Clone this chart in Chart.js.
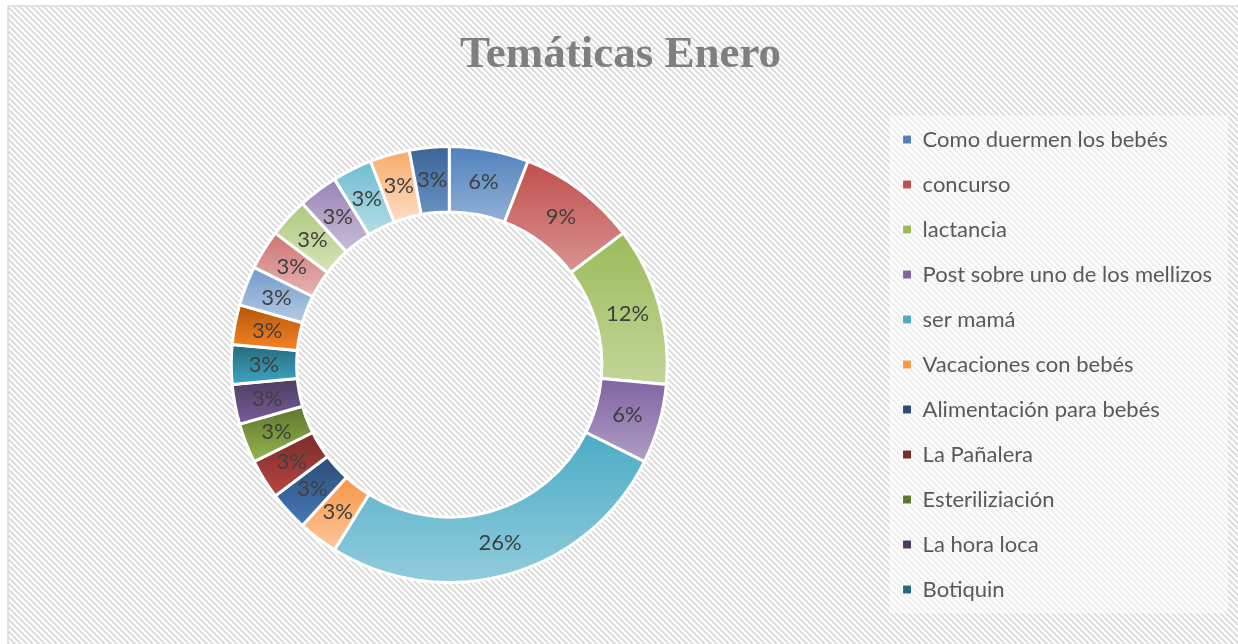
<!DOCTYPE html>
<html>
<head>
<meta charset="utf-8">
<title>Temáticas Enero</title>
<script src="https://cdn.jsdelivr.net/npm/chart.js@4.4.0/dist/chart.umd.min.js"></script>
<style>
  html, body { margin: 0; padding: 0; background: #fff; }
  #wrap { width: 1238px; height: 644px; }
</style>
</head>
<body>
<div id="wrap"><canvas id="temasChart" width="1238" height="644"></canvas></div>
<script>
// Temas publicados en enero (el original solo muestra 11 en la leyenda)
var temas = [
    'Como duermen los bebés', 'concurso', 'lactancia', 'Post sobre uno de los mellizos',
    'ser mamá', 'Vacaciones con bebés', 'Alimentación para bebés', 'La Pañalera',
    'Esteriliziación', 'La hora loca', 'Botiquin',
    // nombres no visibles en la imagen
    'Tema 12', 'Tema 13', 'Tema 14', 'Tema 15', 'Tema 16', 'Tema 17', 'Tema 18', 'Tema 19'
];
var publicaciones = [2, 3, 4, 2, 9, 1, 1, 1, 1, 1, 1, 1, 1, 1, 1, 1, 1, 1, 1];
var temasEnLeyenda = 11;

// paleta tipo Office 2007
var colores = [
    '#4f81bd', '#c0504d', '#9bbb59', '#8064a2', '#4bacc6', '#f79646',
    '#2c4d75', '#772c2a', '#5f7530', '#4d3b62', '#276a7c', '#b65708',
    '#729aca', '#cd7371', '#afc97a', '#9983b5', '#6fbdd1', '#f9ab6b',
    '#3b6496'
];

// sube la luminosidad (HSL) sin perder saturación
function aclarar(hex, dl) {
    var n = parseInt(hex.slice(1), 16);
    var r = ((n >> 16) & 255) / 255, g = ((n >> 8) & 255) / 255, b = (n & 255) / 255;
    var max = Math.max(r, g, b), min = Math.min(r, g, b);
    var h = 0, s = 0, l = (max + min) / 2;
    if (max !== min) {
        var d = max - min;
        s = l > 0.5 ? d / (2 - max - min) : d / (max + min);
        if (max === r) h = (g - b) / d + (g < b ? 6 : 0);
        else if (max === g) h = (b - r) / d + 2;
        else h = (r - g) / d + 4;
        h *= 60;
    }
    l = Math.min(l + dl, 0.92);
    return 'hsl(' + h.toFixed(1) + ',' + (s * 100).toFixed(1) + '%,' + (l * 100).toFixed(1) + '%)';
}

// fondo rayado + recuadro blanco de la leyenda
var fondoPlugin = {
    id: 'fondo',
    beforeDraw: function (chart) {
        var ctx = chart.ctx;
        var tile = document.createElement('canvas');
        tile.width = 6; tile.height = 6;
        var tctx = tile.getContext('2d');
        var img = tctx.createImageData(6, 6);
        for (var y = 0; y < 6; y++) {
            for (var x = 0; x < 6; x++) {
                var k = (y * 6 + x) * 4;
                var gris = ((x - y + 12) % 6) < 3;
                var v = gris ? 222 : 255;
                img.data[k] = v; img.data[k + 1] = v; img.data[k + 2] = v; img.data[k + 3] = 255;
            }
        }
        tctx.putImageData(img, 0, 0);
        ctx.save();
        ctx.fillStyle = '#fff';
        ctx.fillRect(0, 0, chart.width, chart.height);
        ctx.fillStyle = ctx.createPattern(tile, 'repeat');
        ctx.fillRect(8, 6, chart.width, chart.height);
        ctx.strokeStyle = '#d9d9d9';
        ctx.lineWidth = 1.5;
        ctx.strokeRect(8, 6, chart.width + 10, chart.height + 10);

        var cajas = chart.legend.legendHitBoxes;
        if (cajas && cajas.length) {
            var primera = cajas[0], ultima = cajas[cajas.length - 1];
            var izq = primera.left - 13, arriba = primera.top - 13;
            ctx.fillStyle = 'rgba(255,255,255,0.5)';
            ctx.fillRect(izq, arriba, 1228 - izq, ultima.top + ultima.height + 13 - arriba);
        }
        ctx.restore();
    }
};

// degradado vertical en cada sector
var degradadoPlugin = {
    id: 'degradado',
    beforeDatasetsDraw: function (chart) {
        var ctx = chart.ctx;
        chart.getDatasetMeta(0).data.forEach(function (arc, i) {
            var p = arc.getProps(['x', 'y', 'startAngle', 'endAngle', 'innerRadius', 'outerRadius']);
            var minY = Infinity, maxY = -Infinity;
            for (var k = 0; k <= 24; k++) {
                var a = p.startAngle + (p.endAngle - p.startAngle) * k / 24;
                [p.innerRadius, p.outerRadius].forEach(function (r) {
                    var yy = p.y + Math.sin(a) * r;
                    if (yy < minY) minY = yy;
                    if (yy > maxY) maxY = yy;
                });
            }
            var g = ctx.createLinearGradient(0, minY, 0, maxY);
            g.addColorStop(0, colores[i]);
            g.addColorStop(1, aclarar(colores[i], 0.18));
            arc.options.backgroundColor = g;
        });
    }
};

// porcentajes dentro de cada sector
var etiquetasPlugin = {
    id: 'etiquetas',
    afterDatasetsDraw: function (chart) {
        var ctx = chart.ctx;
        var total = publicaciones.reduce(function (a, b) { return a + b; }, 0);
        ctx.save();
        ctx.font = '22px Lato';
        ctx.fillStyle = '#404040';
        ctx.textAlign = 'center';
        ctx.textBaseline = 'middle';
        chart.getDatasetMeta(0).data.forEach(function (arc, i) {
            var pos = arc.tooltipPosition();
            ctx.fillText(Math.round(publicaciones[i] / total * 100) + '%', pos.x, pos.y);
        });
        ctx.restore();
    }
};

var ctx = document.getElementById('temasChart').getContext('2d');
var chart = new Chart(ctx, {
    type: 'doughnut',
    data: {
        labels: temas,
        datasets: [{
            data: publicaciones,
            backgroundColor: colores,
            borderColor: '#ffffff',
            borderWidth: 3
        }]
    },
    options: {
        responsive: false,
        animation: false,
        cutout: '70%',
        radius: 218,
        layout: { padding: { left: 19, right: 16, top: 0, bottom: 0 } },
        plugins: {
            title: {
                display: true,
                text: 'Temáticas Enero',
                color: '#7f7f7f',
                font: { family: 'Liberation Serif', size: 45, weight: 'bold' },
                padding: { top: 28, bottom: 3 }
            },
            legend: {
                display: true,
                position: 'right',
                fullSize: false,
                labels: {
                    color: '#595959',
                    font: { family: 'Lato', size: 22 },
                    boxWidth: 9,
                    boxHeight: 9,
                    padding: 23,
                    filter: function (item) { return item.index < temasEnLeyenda; },
                    generateLabels: function (chart) {
                        var items = Chart.overrides.doughnut.plugins.legend.labels.generateLabels(chart);
                        items.forEach(function (it) { it.lineWidth = 1; it.strokeStyle = '#ffffff'; });
                        return items;
                    }
                }
            },
            tooltip: { enabled: false }
        }
    },
    plugins: [fondoPlugin, degradadoPlugin, etiquetasPlugin]
});
</script>
</body>
</html>
